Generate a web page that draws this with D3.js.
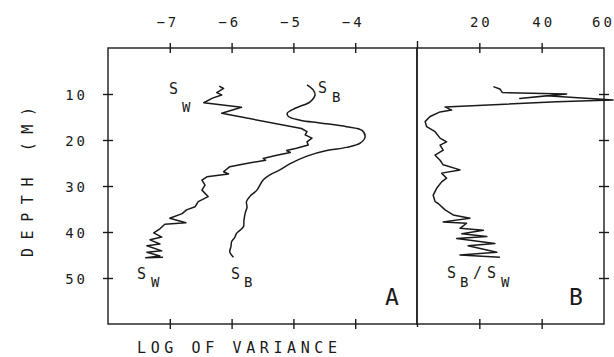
<!DOCTYPE html>
<html><head><meta charset="utf-8">
<script src="https://cdn.jsdelivr.net/npm/d3@7"></script>
<style>
html,body{margin:0;padding:0;background:#fff;}
svg{display:block;}
text{font-family:"DejaVu Sans Mono",monospace;fill:#1a1a1a;}
</style></head>
<body>
<svg id="chart" width="614" height="357"></svg>
<script>
// ---- data ----
const depthTicks = [10, 20, 30, 40, 50];
const logTicks = [-7, -6, -5, -4];
const ratioTicks = [20, 40, 60];

// S_W : log of variance vs depth (m)
const swDepth = [8.3, 8.8, 9.7, 10.2, 10.9, 11.9, 12.9, 14.2, 17.5, 18.2, 18.9, 19.6, 20.4, 21.1, 21.8, 22.3, 22.7, 23.3, 24.0, 24.4, 25.1, 25.8, 26.9, 27.4, 28.0, 28.7, 29.8, 30.9, 32.3, 33.4, 34.5, 35.2, 36.0, 37.0, 38.0, 38.3, 39.3, 40.2, 41.1, 41.7, 42.6, 43.0, 44.1, 44.4, 45.2, 45.6, 45.5];
const swLog = [-6.20, -6.13, -6.24, -6.16, -6.31, -6.45, -5.84, -6.16, -4.87, -4.78, -4.81, -4.70, -4.78, -4.76, -4.95, -5.11, -5.05, -5.27, -5.49, -5.45, -5.76, -6.03, -6.13, -6.05, -6.40, -6.48, -6.43, -6.48, -6.38, -6.54, -6.59, -6.73, -6.80, -7.00, -6.74, -7.08, -7.16, -7.26, -7.13, -7.32, -7.16, -7.37, -7.13, -7.37, -7.16, -7.39, -7.11];

// S_B : log of variance vs depth (m)
const sbDepth = [8.0, 9.1, 10.2, 11.7, 13.1, 14.2, 14.9, 15.7, 16.3, 17.1, 17.9, 19.3, 20.7, 21.6, 22.3, 23.5, 25.2, 26.5, 27.6, 28.7, 30.9, 32.2, 33.4, 34.6, 35.9, 37.4, 38.9, 40.3, 41.2, 42.1, 43.2, 44.3, 45.5];
const sbLog = [-4.78, -4.68, -4.65, -4.73, -4.97, -5.10, -5.08, -4.89, -4.57, -4.14, -3.89, -3.84, -3.92, -4.14, -4.46, -4.78, -5.06, -5.22, -5.38, -5.49, -5.59, -5.70, -5.76, -5.75, -5.78, -5.80, -5.81, -5.92, -5.95, -6.00, -6.01, -6.03, -5.97];

// S_B / S_W ratio vs depth (m)
const ratioDepth = [8.4, 8.9, 9.7, 10.0, 11.0, 10.4, 11.3, 11.7, 12.8, 13.5, 13.9, 14.9, 16.0, 17.1, 18.2, 19.6, 20.4, 21.1, 22.2, 23.3, 24.4, 25.4, 26.5, 27.2, 28.3, 29.1, 30.5, 32.0, 33.4, 33.8, 35.2, 36.3, 37.0, 37.8, 38.1, 39.2, 39.6, 40.4, 41.0, 41.4, 42.5, 43.0, 44.4, 45.0, 45.5];
const ratioVal = [24.5, 26.6, 27.4, 48.0, 33.0, 41.6, 62.9, 44.8, 9.0, 11.1, 7.4, 4.2, 2.6, 3.1, 5.8, 7.4, 9.5, 7.4, 8.4, 5.8, 7.4, 8.4, 13.8, 7.9, 9.5, 7.9, 6.3, 5.2, 5.8, 6.8, 9.0, 11.6, 17.0, 8.4, 15.9, 13.8, 21.3, 14.4, 22.4, 12.7, 25.0, 16.4, 25.6, 13.8, 26.6];

// ---- drawing ----
const ink = "#1a1a1a";
const svg = d3.select("#chart");
const y = d3.scaleLinear().domain([0, 60]).range([48, 324]);
const xA = d3.scaleLinear().domain([-8, -3]).range([108, 417]);
const xB = d3.scaleLinear().domain([0, 60]).range([417, 604]);

// frames
svg.append("rect").attr("x", xA(-8)).attr("y", y(0)).attr("width", xA(-3) - xA(-8)).attr("height", y(60) - y(0))
  .attr("fill", "none").attr("stroke", ink).attr("stroke-width", 1.4);
svg.append("rect").attr("x", xB(0)).attr("y", y(0)).attr("width", xB(60) - xB(0)).attr("height", y(60) - y(0))
  .attr("fill", "none").attr("stroke", ink).attr("stroke-width", 1.4);

function styleAxis(g, horizontal, labels) {
  g.select(".domain").remove();
  g.selectAll(".tick line").attr("stroke", ink).attr("stroke-width", 1.4);
  if (horizontal) g.selectAll(".tick line").attr("y1", -5).attr("y2", 5);
  else g.selectAll(".tick line").attr("x1", -5).attr("x2", 5);
  g.selectAll(".tick text").attr("fill", ink).style("font-family", '"DejaVu Sans Mono",monospace')
    .style("font-size", "14px").style("letter-spacing", "3px");
  if (!labels) g.selectAll(".tick text").remove();
}

// top axis A
const topA = svg.append("g").attr("transform", `translate(0,${y(0)})`)
  .call(d3.axisTop(xA).tickValues(logTicks).tickSize(5).tickFormat(d3.format("d")));
styleAxis(topA, true, true);
topA.selectAll(".tick text").attr("text-anchor", "end").attr("x", 9).attr("y", -21).attr("dy", 0);

// top axis B
const topB = svg.append("g").attr("transform", `translate(0,${y(0)})`)
  .call(d3.axisTop(xB).tickValues([0].concat(ratioTicks)).tickSize(5).tickFormat(d => d === 0 ? "" : d3.format("d")(d)));
styleAxis(topB, true, true);
topB.selectAll(".tick text").attr("x", d => d === 60 ? -1 : 1.5).attr("y", -21).attr("dy", 0);
topB.selectAll(".tick line").filter(d => d === 0).attr("y1", -7).attr("y2", 0);
topB.selectAll(".tick line").filter(d => d === 60).remove();

// bottom axes
const botA = svg.append("g").attr("transform", `translate(0,${y(60)})`)
  .call(d3.axisBottom(xA).tickValues(logTicks).tickSize(5));
styleAxis(botA, true, false);
const botB = svg.append("g").attr("transform", `translate(0,${y(60)})`)
  .call(d3.axisBottom(xB).tickValues([0, 20, 40]).tickSize(5));
styleAxis(botB, true, false);
botB.selectAll(".tick line").filter(d => d === 0).attr("y1", 0).attr("y2", 3);

// left depth axis
const left = svg.append("g").attr("transform", `translate(${xA(-8)},0)`)
  .call(d3.axisLeft(y).tickValues(depthTicks).tickSize(5).tickFormat(d3.format("d")));
styleAxis(left, false, true);
left.selectAll(".tick text").attr("x", -20).attr("dy", "0.36em");

// right axis B
const right = svg.append("g").attr("transform", `translate(${xB(60)},0)`)
  .call(d3.axisRight(y).tickValues(depthTicks).tickSize(5));
styleAxis(right, false, false);

// curves
const lineA = (dep, val) => d3.line().x(i => xA(val[i])).y(i => y(dep[i]));
svg.append("path").attr("d", lineA(swDepth, swLog)(d3.range(swDepth.length)))
  .attr("fill", "none").attr("stroke", ink).attr("stroke-width", 1.5).attr("stroke-linejoin", "round");
svg.append("path").attr("d", lineA(sbDepth, sbLog).curve(d3.curveCatmullRom)(d3.range(sbDepth.length)))
  .attr("fill", "none").attr("stroke", ink).attr("stroke-width", 1.5).attr("stroke-linejoin", "round");
svg.append("path").attr("d", d3.line().x(i => xB(ratioVal[i])).y(i => y(ratioDepth[i]))(d3.range(ratioDepth.length)))
  .attr("fill", "none").attr("stroke", ink).attr("stroke-width", 1.5).attr("stroke-linejoin", "round");

// axis titles
svg.append("text").attr("transform", "translate(33,257) rotate(-90)")
  .attr("textLength", 150).attr("lengthAdjust", "spacing")
  .style("font-size", "15px").text("DEPTH (M)");
svg.append("text").attr("x", 137).attr("y", 353)
  .attr("textLength", 200).attr("lengthAdjust", "spacing")
  .style("font-size", "15px").text("LOG OF VARIANCE");

// panel letters
svg.append("text").attr("x", 385).attr("y", 305).style("font-size", "23px").text("A");
svg.append("text").attr("x", 569).attr("y", 305).style("font-size", "23px").text("B");

// curve annotations
const notes = [
  ["S", 169, 94, 15], ["W", 182, 112, 14],
  ["S", 318, 93, 15], ["B", 332, 102, 14],
  ["S", 137, 279, 15], ["W", 151, 287, 14],
  ["S", 231, 279, 15], ["B", 244, 287, 14],
  ["S", 447, 278, 15], ["B", 460, 287, 14], ["/", 473, 278, 15], ["S", 487, 278, 15], ["W", 501, 287, 14]
];
svg.selectAll("text.note").data(notes).join("text").attr("class", "note")
  .attr("x", d => d[1]).attr("y", d => d[2]).style("font-size", d => d[3] + "px").text(d => d[0]);
</script>
</body></html>
